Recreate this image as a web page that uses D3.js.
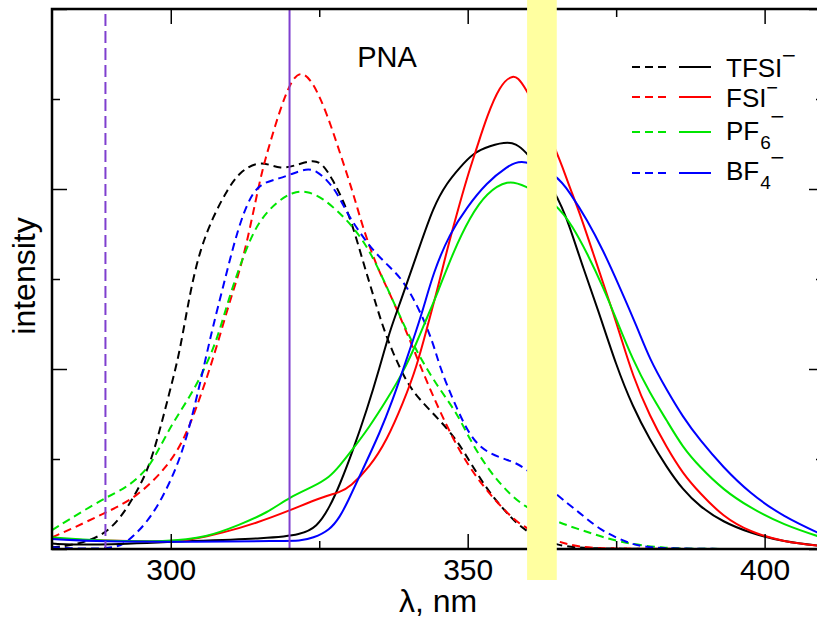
<!DOCTYPE html>
<html>
<head>
<meta charset="utf-8">
<script src="https://cdn.jsdelivr.net/npm/d3@7"></script>
<style>
  html, body { margin: 0; padding: 0; background: #fff; }
  svg { display: block; font-family: "Liberation Sans", Arial, sans-serif; }
</style>
</head>
<body>
<svg id="chart" width="817" height="620"></svg>
<script>
// Excitation (dashed) and emission (solid) spectra of PNA with four anions.
// Each point: [wavelength in nm, intensity in arbitrary units]
const tfsiAbs = [[280.0,0.02],[283.5,0.04],[288.1,0.13],[291.4,0.32],[294.8,0.69],[297.0,1.02],[299.9,1.77],[301.5,2.18],[303.2,2.84],[304.9,3.32],[307.1,3.69],[309.5,3.99],[311.6,4.19],[314.5,4.30],[316.7,4.27],[318.4,4.23],[320.6,4.25],[323.9,4.33],[325.6,4.28],[327.3,4.10],[329.0,3.88],[330.7,3.58],[332.3,3.21],[334.0,2.84],[335.7,2.47],[337.4,2.18],[339.8,1.84],[341.9,1.66],[345.3,1.43],[348.2,1.21],[350.9,0.91],[353.7,0.62],[356.6,0.40],[359.3,0.21],[365.0,0.02],[372.3,0.0],[410,0.0]];
const fsiAbs = [[280.0,0.13],[283.5,0.23],[288.9,0.40],[294.2,0.57],[299.4,0.91],[302.2,1.21],[304.4,1.58],[307.1,2.10],[310.0,2.77],[311.3,3.02],[312.8,3.40],[314.2,3.84],[315.4,4.21],[316.7,4.51],[318.4,4.88],[320.1,5.18],[321.8,5.32],[323.9,5.20],[326.3,4.84],[328.5,4.40],[330.7,3.96],[332.3,3.58],[334.7,3.13],[336.9,2.84],[339.8,2.40],[343.2,1.84],[346.5,1.36],[349.2,1.02],[352.6,0.69],[356.6,0.40],[359.3,0.24],[365.0,0.08],[368.9,0.02],[374.4,0.0],[410,0.0]];
const pf6Abs = [[280.0,0.21],[289.1,0.58],[292.6,0.68],[296.0,0.88],[297.7,1.07],[300.3,1.40],[303.2,1.69],[305.4,1.96],[307.8,2.32],[310.0,2.84],[312.8,3.36],[315.0,3.66],[317.9,3.86],[320.6,3.97],[322.9,3.98],[325.6,3.90],[328.5,3.73],[330.7,3.58],[333.5,3.32],[336.4,2.91],[339.1,2.51],[341.9,2.13],[345.3,1.77],[348.2,1.51],[350.4,1.21],[353.2,0.91],[355.9,0.69],[359.3,0.47],[365.0,0.30],[370.1,0.19],[375.6,0.07],[382.9,0.01],[388.6,0.0],[410,0.0]];
const bf4Abs = [[280.0,0.02],[285.2,0.0],[290.6,0.01],[292.6,0.07],[296.0,0.29],[298.7,0.58],[301.0,0.91],[302.7,1.24],[304.4,1.69],[306.1,2.18],[307.1,2.47],[308.8,2.91],[310.5,3.36],[312.2,3.73],[313.8,3.96],[315.5,4.07],[318.4,4.12],[320.1,4.16],[322.9,4.23],[324.6,4.20],[326.3,4.10],[328.0,3.96],[329.7,3.73],[331.9,3.51],[334.0,3.32],[336.9,3.13],[339.1,2.99],[341.9,2.66],[344.2,2.29],[345.3,2.02],[347.5,1.66],[350.4,1.24],[353.2,1.07],[356.6,0.99],[359.3,0.93],[365.0,0.60],[368.9,0.40],[372.3,0.21],[376.8,0.07],[380.2,0.01],[389.1,0.0],[410,0.0]];

const tfsiEm = [[280.0,0.06],[285.9,0.04],[300.0,0.08],[317.2,0.12],[321.8,0.16],[324.6,0.24],[326.8,0.47],[328.5,0.72],[330.7,1.10],[333.0,1.54],[335.2,2.02],[336.9,2.43],[338.6,2.73],[341.9,3.36],[344.2,3.80],[346.5,4.07],[348.7,4.24],[350.9,4.40],[353.7,4.48],[356.8,4.53],[359.3,4.48],[365.0,3.96],[367.2,3.58],[369.4,3.13],[371.8,2.69],[375.1,2.02],[377.8,1.58],[380.7,1.21],[383.5,0.91],[386.2,0.66],[389.1,0.47],[393.0,0.30],[397.5,0.18],[403.1,0.08],[410,0.03]];
const fsiEm = [[280.0,0.12],[288.1,0.09],[300.0,0.08],[303.2,0.10],[308.8,0.18],[314.5,0.29],[320.1,0.43],[325.6,0.58],[328.5,0.63],[330.2,0.69],[333.5,0.91],[336.4,1.21],[339.1,1.62],[341.4,2.02],[343.2,2.47],[344.9,2.88],[346.5,3.32],[348.2,3.73],[349.9,4.13],[351.6,4.47],[353.2,4.80],[355.4,5.15],[357.6,5.28],[359.3,5.20],[365.0,4.43],[366.7,4.10],[368.9,3.73],[371.1,3.29],[373.4,2.84],[375.6,2.40],[377.8,1.92],[380.7,1.47],[383.5,1.13],[386.2,0.84],[389.1,0.62],[393.0,0.36],[397.5,0.19],[403.1,0.08],[410,0.03]];
const pf6Em = [[280.0,0.13],[288.1,0.09],[299.4,0.08],[306.1,0.13],[311.6,0.27],[316.2,0.40],[320.1,0.58],[323.9,0.69],[326.8,0.80],[328.5,0.93],[330.2,1.07],[333.5,1.36],[336.4,1.66],[339.1,1.96],[341.4,2.29],[343.2,2.58],[344.9,2.84],[347.5,3.29],[350.4,3.69],[353.2,3.96],[356.8,4.10],[359.3,4.05],[365.0,3.84],[367.7,3.58],[370.1,3.29],[372.8,2.91],[375.1,2.54],[377.8,2.10],[380.7,1.73],[383.5,1.43],[386.2,1.13],[389.1,0.91],[393.0,0.66],[397.5,0.46],[403.1,0.27],[410,0.12]];
const bf4Em = [[280.0,0.11],[288.1,0.08],[304.9,0.08],[318.4,0.09],[321.8,0.09],[323.9,0.12],[326.8,0.21],[328.5,0.36],[329.7,0.51],[332.3,0.88],[335.2,1.29],[337.4,1.66],[339.1,1.99],[340.8,2.32],[342.5,2.66],[344.2,3.07],[347.0,3.51],[349.9,3.80],[353.2,4.07],[356.6,4.25],[359.3,4.34],[365.0,4.16],[367.2,3.96],[370.1,3.66],[372.8,3.32],[375.6,2.91],[378.5,2.47],[380.7,2.10],[383.5,1.77],[386.2,1.47],[389.1,1.21],[393.0,0.91],[397.5,0.62],[403.1,0.36],[410,0.15]];

// Anion labels, legend colours and excitation wavelengths
const anions = ["TFSI", "FSI", "PF", "BF"];
const anionSubs = ["", "", "6", "4"];
const colors = ["#000000", "#ff0000", "#00e600", "#0000ff"];
const absSeries = [tfsiAbs, fsiAbs, pf6Abs, bf4Abs];
const emSeries = [tfsiEm, fsiEm, pf6Em, bf4Em];
const excitationDashed = 289;
const excitationSolid = 320;
const highlightBand = [360, 365];

// Axis ticks
const xMajorTicks = [300, 350, 400];
const xMinorTicks = [325, 375];
const yMajorTicks = [0, 2, 4, 6];
const yMinorTicks = [1, 3, 5];
const xDomain = [280, 410];
const yDomain = [0, 6];

const svg = d3.select("#chart");
const margin = { left: 52, top: 9, right: 824, bottom: 549 };

const x = d3.scaleLinear().domain(xDomain).range([margin.left, margin.right]);
const y = d3.scaleLinear().domain(yDomain).range([margin.bottom, margin.top]);

svg.append("defs").append("clipPath").attr("id", "plot-clip")
  .append("rect")
  .attr("x", margin.left).attr("y", margin.top)
  .attr("width", margin.right - margin.left)
  .attr("height", margin.bottom - margin.top);

const plot = svg.append("g").attr("clip-path", "url(#plot-clip)");

const line = d3.line()
  .x(d => x(d[0]))
  .y(d => y(d[1]))
  .curve(d3.curveBasis);

// Excitation spectra (dashed)
absSeries.forEach((s, i) => {
  plot.append("path")
    .attr("d", line(s))
    .attr("fill", "none")
    .attr("stroke", colors[i])
    .attr("stroke-width", 2)
    .attr("stroke-dasharray", "8,5");
});

// Emission spectra (solid)
emSeries.forEach((s, i) => {
  plot.append("path")
    .attr("d", line(s))
    .attr("fill", "none")
    .attr("stroke", colors[i])
    .attr("stroke-width", 2);
});

// Excitation wavelength markers
const purple = "#7f3fcf";
plot.append("line")
  .attr("x1", x(excitationDashed)).attr("x2", x(excitationDashed))
  .attr("y1", y(yDomain[1]) + 5).attr("y2", y(0))
  .attr("stroke", purple).attr("stroke-width", 2)
  .attr("stroke-dasharray", "12,5");
plot.append("line")
  .attr("x1", x(excitationSolid)).attr("x2", x(excitationSolid))
  .attr("y1", y(yDomain[1])).attr("y2", y(0))
  .attr("stroke", purple).attr("stroke-width", 2);

// Axes: ticks point inward on all four sides
function tickAxis(axisFn, scale, ticks, size, labels) {
  return axisFn(scale)
    .tickValues(ticks)
    .tickSizeInner(-size)
    .tickSizeOuter(0)
    .tickPadding(10)
    .tickFormat(labels ? d3.format("d") : () => "");
}

function styleAxis(g) {
  g.select(".domain").remove();
  g.selectAll(".tick line").attr("stroke", "#000").attr("stroke-width", 1.5);
  g.selectAll(".tick text")
    .attr("fill", "#000")
    .attr("font-size", 30)
    .attr("font-family", "Liberation Sans, Arial, sans-serif");
}

const axes = svg.append("g");
axes.append("g").attr("transform", `translate(0,${margin.bottom})`)
  .call(tickAxis(d3.axisBottom, x, xMajorTicks, 15, true)).call(styleAxis);
axes.append("g").attr("transform", `translate(0,${margin.bottom})`)
  .call(tickAxis(d3.axisBottom, x, xMinorTicks, 8, false)).call(styleAxis);
axes.append("g").attr("transform", `translate(0,${margin.top})`)
  .call(tickAxis(d3.axisTop, x, xMajorTicks, 15, false)).call(styleAxis);
axes.append("g").attr("transform", `translate(0,${margin.top})`)
  .call(tickAxis(d3.axisTop, x, xMinorTicks, 8, false)).call(styleAxis);
axes.append("g").attr("transform", `translate(${margin.left},0)`)
  .call(tickAxis(d3.axisLeft, y, yMajorTicks, 15, false)).call(styleAxis);
axes.append("g").attr("transform", `translate(${margin.left},0)`)
  .call(tickAxis(d3.axisLeft, y, yMinorTicks, 8, false)).call(styleAxis);
axes.append("g").attr("transform", `translate(${margin.right},0)`)
  .call(tickAxis(d3.axisRight, y, yMajorTicks, 15, false)).call(styleAxis);
axes.append("g").attr("transform", `translate(${margin.right},0)`)
  .call(tickAxis(d3.axisRight, y, yMinorTicks, 8, false)).call(styleAxis);

// Frame
svg.append("rect")
  .attr("x", margin.left).attr("y", margin.top)
  .attr("width", margin.right - margin.left)
  .attr("height", margin.bottom - margin.top)
  .attr("fill", "none")
  .attr("stroke", "#000")
  .attr("stroke-width", 2.5);

// Highlighted band, drawn over the plot
svg.append("rect")
  .attr("x", x(highlightBand[0]))
  .attr("y", 0)
  .attr("width", x(highlightBand[1]) - x(highlightBand[0]))
  .attr("height", 580)
  .attr("fill", "#ffffa0");

// Titles
svg.append("text")
  .attr("x", 387).attr("y", 67)
  .attr("text-anchor", "middle")
  .attr("font-size", 29)
  .text("PNA");

svg.append("text")
  .attr("transform", "translate(35,276) rotate(-90)")
  .attr("text-anchor", "middle")
  .attr("font-size", 32)
  .text("intensity");

svg.append("text")
  .attr("x", 438).attr("y", 612)
  .attr("text-anchor", "middle")
  .attr("font-size", 32)
  .text("λ, nm");

// Legend: line samples, anion name, subscript and charge sign
const legendLineY = [67, 97, 132, 173];
const legendTextY = [77, 107, 140, 180];
const chargeY = [55, 87, 116, 157];
const legendX = 726;
const legend = svg.append("g");
anions.forEach((name, i) => {
  legend.append("line")
    .attr("x1", 632).attr("x2", 668)
    .attr("y1", legendLineY[i]).attr("y2", legendLineY[i])
    .attr("stroke", colors[i]).attr("stroke-width", 2)
    .attr("stroke-dasharray", "8,5");
  legend.append("line")
    .attr("x1", 679).attr("x2", 711)
    .attr("y1", legendLineY[i]).attr("y2", legendLineY[i])
    .attr("stroke", colors[i]).attr("stroke-width", 2);
  const main = legend.append("text")
    .attr("x", legendX).attr("y", legendTextY[i])
    .attr("font-size", 26)
    .text(name);
  let endX = legendX + main.node().getComputedTextLength();
  if (anionSubs[i]) {
    const sub = legend.append("text")
      .attr("x", endX + 1).attr("y", legendTextY[i] + 9)
      .attr("font-size", 19)
      .text(anionSubs[i]);
    endX += 1 + sub.node().getComputedTextLength();
  }
  // charge sign: a small minus stretched to width and thickened with a stroke
  const signW = i === 1 ? 10 : 12;
  legend.append("text")
    .attr("x", endX + 1)
    .attr("y", chargeY[i])
    .attr("font-size", 10)
    .attr("dominant-baseline", "central")
    .attr("textLength", signW)
    .attr("lengthAdjust", "spacingAndGlyphs")
    .attr("stroke", "#000")
    .attr("stroke-width", 0.8)
    .text("−");
});
</script>
</body>
</html>
